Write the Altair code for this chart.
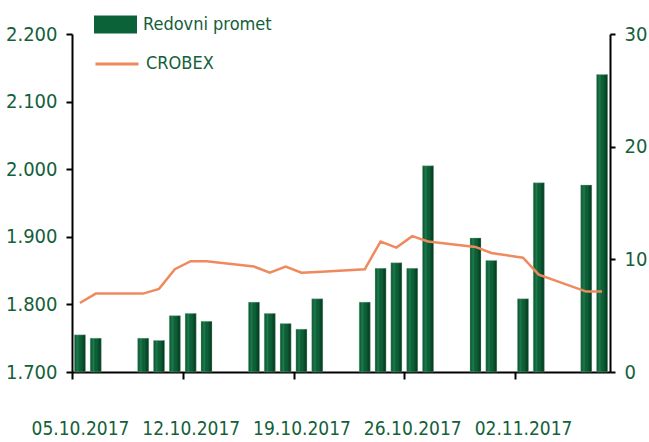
import altair as alt
import pandas as pd

dates = ["2017-10-05", "2017-10-06", "2017-10-09", "2017-10-10", "2017-10-11", "2017-10-12", "2017-10-13",
         "2017-10-16", "2017-10-17", "2017-10-18", "2017-10-19", "2017-10-20",
         "2017-10-23", "2017-10-24", "2017-10-25", "2017-10-26", "2017-10-27",
         "2017-10-30", "2017-10-31", "2017-11-02", "2017-11-03", "2017-11-06", "2017-11-07"]
promet = [3.3, 3.0, 3.0, 2.8, 5.0, 5.2, 4.5,
          6.2, 5.2, 4.3, 3.8, 6.5,
          6.2, 9.2, 9.7, 9.2, 18.3,
          11.9, 9.9, 6.5, 16.8, 16.6, 26.4]
crobex = [1802, 1816, 1816, 1823, 1852, 1864, 1864,
          1856, 1847, 1856, 1847, 1848,
          1852, 1893, 1884, 1901, 1893,
          1885, 1876, 1869, 1844, 1819, 1819]
tick_dates = ["2017-10-05", "2017-10-12", "2017-10-19", "2017-10-26", "2017-11-02"]
x_range = ["2017-10-05", "2017-11-08"]
left_ticks = [1700, 1800, 1900, 2000, 2100, 2200]
right_ticks = [0, 10, 20, 30]


def ms(d):
    return int(pd.Timestamp(d, tz="UTC").value // 10**6)


df = pd.DataFrame({
    "mid": [ms(d) + 12 * 3600 * 1000 for d in dates],
    "promet": promet,
    "crobex": crobex,
    "s1": "Redovni promet",
    "s2": "CROBEX",
})

GREEN = "#0c6238"
TXT = "#13603a"
ORANGE = "#ee8a5e"
FONT = "Liberation Sans Narrow, Arial Narrow, DejaVu Sans Condensed, sans-serif"

xscale = alt.Scale(type="utc", domain=[ms(d) for d in x_range], padding=0)
xaxis = alt.Axis(values=[ms(d) for d in tick_dates],
                 labelExpr="utcFormat(datum.value, '%d.%m.%Y')", labelOffset=8,
                 labelFlush=False, labelOverlap=False, labelBound=False,
                 tickSize=7, labelPadding=40, labelFontSize=19)
xenc = alt.X("mid:T", scale=xscale, title=None, axis=xaxis)

base = alt.Chart(df)

bars = base.mark_bar(size=11).encode(
    x=xenc,
    y=alt.Y("promet:Q", scale=alt.Scale(domain=[0, 30], nice=False), title=None,
            axis=alt.Axis(orient="right", values=right_ticks, tickSize=5, labelPadding=9)),
    color=alt.Color("s1:N", scale=alt.Scale(domain=["Redovni promet"], range=[GREEN]),
                    legend=alt.Legend(title=None, orient="none", legendX=22, legendY=-31,
                                      symbolType="M-1,-0.42H1V0.42H-1Z", symbolSize=1849,
                                      symbolStrokeWidth=0, labelFontSize=18, labelColor=TXT,
                                      labelFont=FONT, padding=0, labelOffset=6)),
)

grad = alt.LinearGradient(
    gradient="linear", x1=0, x2=1, y1=0, y2=0,
    stops=[alt.GradientStop(color="rgba(0,40,20,0.35)", offset=0),
           alt.GradientStop(color="rgba(70,180,120,0.30)", offset=0.3),
           alt.GradientStop(color="rgba(0,0,0,0.0)", offset=0.6),
           alt.GradientStop(color="rgba(0,20,10,0.55)", offset=1)])

overlay = base.mark_bar(size=11, fill=grad, stroke="#9cc9ae", strokeWidth=0.7, strokeOpacity=0.5).encode(
    x=xenc,
    y=alt.Y("promet:Q", scale=alt.Scale(domain=[0, 30], nice=False), axis=None),
)

line = base.mark_line(strokeWidth=2.5).encode(
    x=xenc,
    y=alt.Y("crobex:Q", scale=alt.Scale(domain=[1700, 2200], nice=False, zero=False), title=None,
            axis=alt.Axis(orient="left", values=left_ticks, tickSize=6, labelPadding=9,
                          labelExpr="replace(format(datum.value, ',d'), ',', '.')")),
    stroke=alt.Stroke("s2:N", scale=alt.Scale(domain=["CROBEX"], range=[ORANGE]),
                      legend=alt.Legend(title=None, orient="none", legendX=22, legendY=7,
                                        symbolType="stroke", symbolSize=1849, symbolStrokeWidth=3,
                                        labelFontSize=18, labelColor=TXT, labelFont=FONT,
                                        padding=0, labelOffset=6)),
)

chart = alt.layer(bars, overlay, line).resolve_scale(
    y="independent"
).properties(
    width=538, height=338,
    autosize=alt.AutoSizeParams(type="none"),
    padding={"left": 72, "top": 34, "right": 39, "bottom": 70},
    background="white",
).configure_axis(
    grid=False, domainColor="black", domainWidth=2, tickColor="black", tickWidth=2,
    labelColor=TXT, labelFont=FONT, labelFontSize=20,
).configure_view(stroke=None)

chart.save("out.html", embed_options={"renderer": "svg", "actions": False})
